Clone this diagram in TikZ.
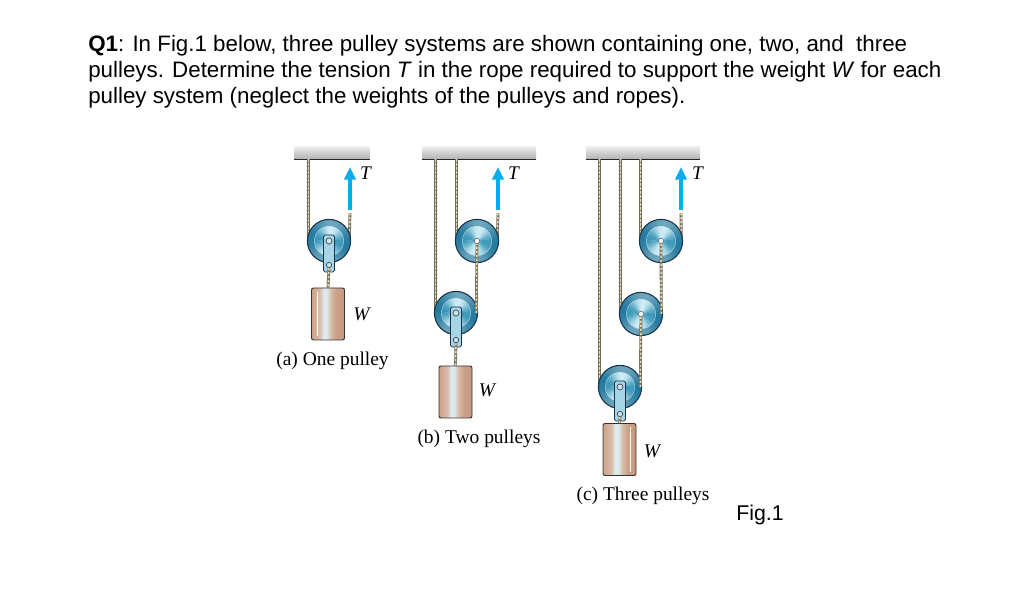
\documentclass[tikz,border=0pt]{standalone}
\usepackage{fontspec}
\setmainfont{Liberation Sans}
\newfontfamily\capfont{Liberation Serif}
\usetikzlibrary{arrows.meta, positioning}
\definecolor{ropedark}{HTML}{716C58}
\definecolor{ropelight}{HTML}{E2DCBC}
\definecolor{wheellight}{HTML}{CDEDF6}
\definecolor{wheeldark}{HTML}{2A8DB2}
\definecolor{wheelband}{HTML}{0F5F86}
\definecolor{wheeledge}{HTML}{18324A}
\definecolor{hangerblue}{HTML}{A6D5E8}
\definecolor{pullblue}{HTML}{00AEEF}
\definecolor{weighttan}{HTML}{CDA088}
\definecolor{weightpale}{HTML}{D9BEAA}
\definecolor{weightshine}{HTML}{DDEBF0}
\definecolor{weightside}{HTML}{C49A80}
\pgfdeclarehorizontalshading{weightfill}{100bp}{color(0bp)=(weighttan);color(25bp)=(weighttan);color(38bp)=(weightpale);color(43bp)=(weightshine);color(48bp)=(weightshine);color(54bp)=(weightpale);color(62bp)=(weighttan);color(75bp)=(weightside);color(100bp)=(weightside)}
\tikzstyle{wheelspot}=[circle,inner sep=0pt,minimum size=30pt]
\tikzstyle{ropeline}=[line width=2.1pt,draw=ropedark,postaction={draw=ropelight,line width=1.1pt,dash pattern=on 1.7pt off 1.3pt}]
\tikzstyle{beam}=[rectangle,inner sep=0pt,minimum height=9pt,top color=black!8,bottom color=black!30]
\tikzstyle{weightbox}=[rectangle,inner sep=0pt,draw=black!80,line width=.7pt,rounded corners=1.5pt,minimum width=24.75pt,minimum height=39pt,shading=weightfill]
\tikzstyle{hubdot}=[circle,inner sep=0pt,minimum size=4pt,draw=black!55,fill=white,line width=.5pt]
\tikzstyle{holedot}=[circle,inner sep=0pt,minimum size=4pt,draw=black!75,fill=hangerblue!60,line width=.5pt]
\tikzstyle{hangerbox}=[draw=wheeledge,fill=hangerblue,line width=.6pt,rounded corners=1.2pt]
\tikzstyle{pullarrow}=[draw=pullblue,line width=3pt,-{Triangle[length=9.5pt,width=8.5pt]}]
\tikzstyle{letter}=[inner sep=0pt,font=\capfont\itshape\fontsize{14.5}{16}\selectfont]
\tikzstyle{captext}=[inner sep=0pt,font=\capfont\fontsize{14.6}{17}\selectfont]
% wheel art, painted at a wheelspot node
\newcommand{\wheel}[1]{
    \begin{scope}
        \clip (#1.center) circle[radius=16pt];
        \foreach \a in {0,8,...,352} {
            \pgfmathsetmacro{\mix}{55+45*cos(2*(\a-75))}
            \fill[wheellight!\mix!wheeldark] (#1.center) -- +(\a:20pt) -- +({\a+9}:20pt) -- cycle;}
    \end{scope}
    \fill[wheelband,opacity=.5,even odd rule] (#1.center) circle[radius=16pt] circle[radius=11pt];
    \draw[white,opacity=.55,line width=.4pt] (#1.center) circle[radius=11pt];
    \draw[wheeledge,line width=.8pt] (#1.center) circle[radius=16.2pt];}
\newcommand{\hanger}[2]{
    \draw[hangerbox] ([shift={(-5.5,-6)}]#1.center) rectangle ([shift={(5.5,#2+7)}]#1.center);
    \node[holedot,minimum size=4.5pt] (h#1) at (#1.center) {};
    \node[holedot] (k#1) at ([shift={(0,#2)}]#1.center) {};}
\begin{document}
\begin{tikzpicture}[x=.75pt,y=-.75pt]
    \fill[white] (0,0) rectangle (1024,605);
    \useasboundingbox (0,0) rectangle (1024,605);
    \node[anchor=north west,inner sep=0pt,align=left,font=\fontsize{16.75}{19.5}\selectfont] (question) at (88,35.5)
        {\textbf{Q1}: In Fig.1 below, three pulley systems are shown containing one, two, and~ three\\
        pulleys. Determine the tension \textit{T} in the rope required to support the weight \textit{W} for each\\
        pulley system (neglect the weights of the pulleys and ropes).};
    \node[inner sep=0pt,font=\fontsize{16}{19.5}\selectfont] (figlabel) at (760,515) {Fig.1};
    % ceilings
    \foreach \n/\xa/\xb in {a/294/370, b/422/536, c/586/700} {
        \node[beam,minimum width={(\xb-\xa)*.75pt}] (beam\n) at ({(\xa+\xb)/2},153) {};
        \draw[black!85,line width=.9pt] (beam\n.south west) -- (beam\n.south east);}
    % wheel places
    \foreach \n/\x/\y in {pa/329/241, pb/477/241, qb/456/313, pc/661/241, qc/641/314, rc/620/387}
        \node[wheelspot] (\n) at (\x,\y) {};
    \foreach \n/\x/\y in {wa/328/314, wb/455.5/392, wc/619.5/449.5}
        \node[weightbox] (\n) at (\x,\y) {};
    \foreach \n/\x/\y in {enda/350/213, endb/498/213, endc/681/213} {
        \coordinate (\n) at (\x,\y);}
    % ropes behind the wheels
    \draw[ropeline] (pa.west |- beama.south) -- (pa.west);
    \draw[ropeline] (enda) -- (pa.east);
    \draw[ropeline] (qb.west |- beamb.south) -- (qb.west);
    \draw[ropeline] (pb.west |- beamb.south) -- (pb.west);
    \draw[ropeline] (endb) -- (pb.east);
    \draw[ropeline] (rc.west |- beamc.south) -- (rc.west);
    \draw[ropeline] (qc.west |- beamc.south) -- (qc.west);
    \draw[ropeline] (pc.west |- beamc.south) -- (pc.west);
    \draw[ropeline] (endc) -- (pc.east);
    % wheels
    \foreach \n in {pa,pb,qb,pc,qc,rc} {\wheel{\n}}
    % ropes over the wheels, with hubs
    \draw[ropeline] (qb.east) -- (pb.center);
    \draw[ropeline] (qc.east) -- (pc.center);
    \draw[ropeline] (rc.east) -- (qc.center);
    \foreach \n in {pb,pc,qc} {\node[hubdot] (h\n) at (\n) {};}
    \hanger{pa}{24}
    \hanger{qb}{27}
    \hanger{rc}{27}
    \draw[ropeline] (kpa.south) -- (wa.north);
    \draw[ropeline] (kqb.south) -- (wb.north);
    \draw[ropeline] (krc.south) -- (wc.north);
    % highlights on the weights
    \draw[white,line width=.5pt] ([shift={(6,4)}]wa.north west) -- ([shift={(6,-4)}]wa.south west);
    \draw[white,line width=.5pt] ([shift={(-6,4)}]wc.north east) -- ([shift={(-6,-4)}]wc.south east);
    % arrows for the pull T
    \foreach \n/\x in {a/350, b/498, c/681} {
        \coordinate (tail\n) at (\x,210.5);
        \coordinate (tip\n) at (\x,167);
        \draw[pullarrow] (tail\n) -- (tip\n);}
    \foreach \n/\x/\y/\t in {ta/365.5/173.5/T, tb/513.5/173.5/T, tc/697.5/173.5/T, lwa/361.5/314.5/W, lwb/487/390/W, lwc/652/451/W}
        \node[letter] (\n) at (\x,\y) {\t};
    \node[captext] (capa) at (332.5,361) {(a) One pulley};
    \node[captext] (capb) at (479,439) {(b) Two pulleys};
    \node[captext] (capc) at (643,496) {(c) Three pulleys};
\end{tikzpicture}
\end{document}
